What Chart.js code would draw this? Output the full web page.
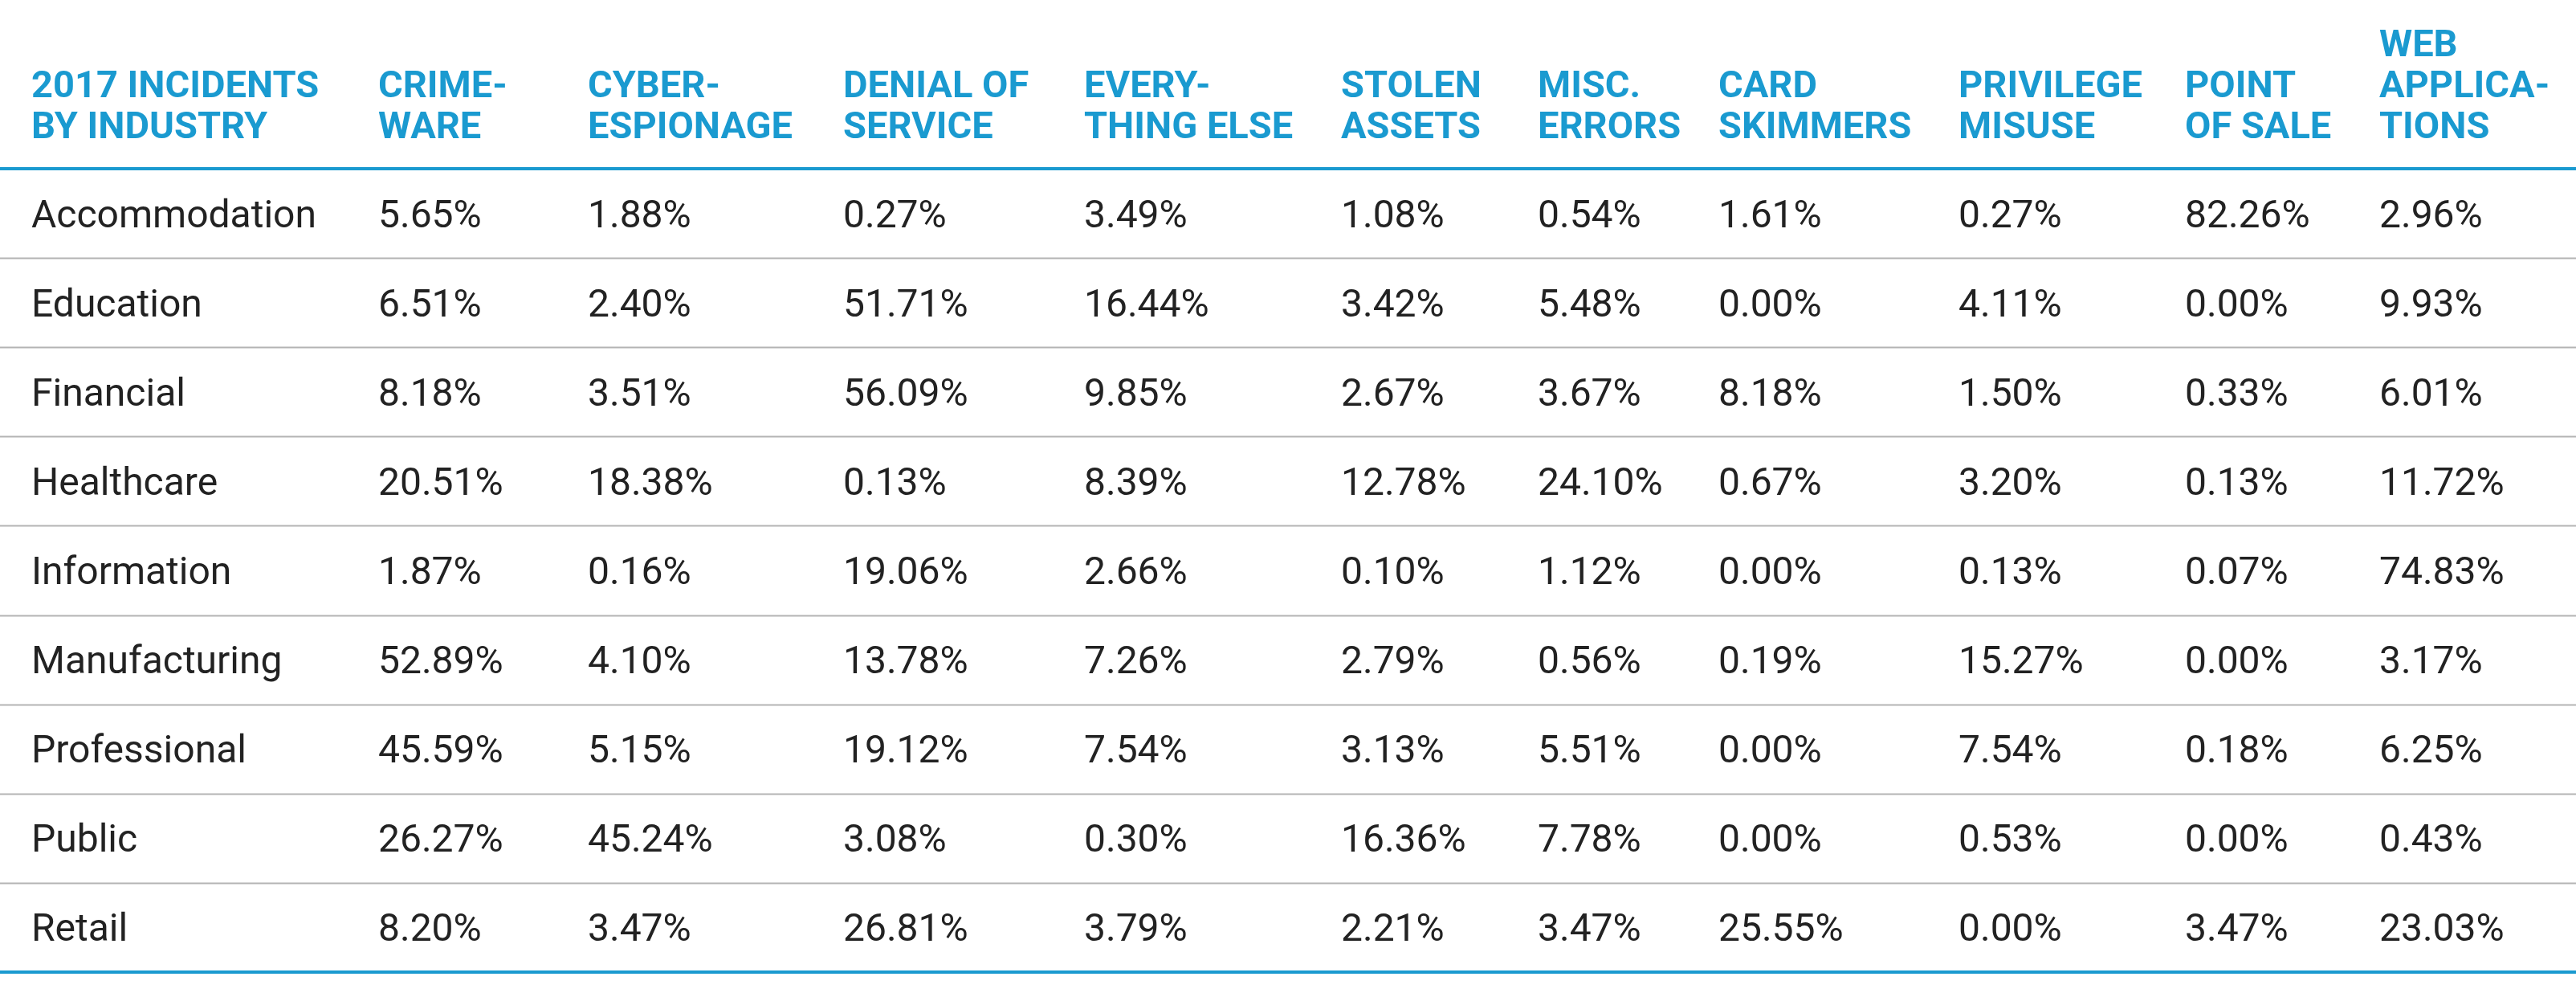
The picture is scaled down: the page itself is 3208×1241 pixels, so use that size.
<!DOCTYPE html>
<html><head><meta charset="utf-8">
<script src="https://cdn.jsdelivr.net/npm/chart.js@4/dist/chart.umd.min.js"></script>
<style>html,body{margin:0;padding:0;background:#fff}canvas{display:block}</style>
</head><body>
<canvas id="c" width="3208" height="1241"></canvas>
<script>
const industries = ["Accommodation","Education","Financial","Healthcare","Information","Manufacturing","Professional","Public","Retail"];
const headers = [["2017 INCIDENTS","BY INDUSTRY"],["CRIME-","WARE"],["CYBER-","ESPIONAGE"],["DENIAL OF","SERVICE"],["EVERY-","THING ELSE"],["STOLEN","ASSETS"],["MISC.","ERRORS"],["CARD","SKIMMERS"],["PRIVILEGE","MISUSE"],["POINT","OF SALE"],["WEB","APPLICA-","TIONS"]];
const crimeware = [5.65,6.51,8.18,20.51,1.87,52.89,45.59,26.27,8.20];
const cyberEspionage = [1.88,2.40,3.51,18.38,0.16,4.10,5.15,45.24,3.47];
const denialOfService = [0.27,51.71,56.09,0.13,19.06,13.78,19.12,3.08,26.81];
const everythingElse = [3.49,16.44,9.85,8.39,2.66,7.26,7.54,0.30,3.79];
const stolenAssets = [1.08,3.42,2.67,12.78,0.10,2.79,3.13,16.36,2.21];
const miscErrors = [0.54,5.48,3.67,24.10,1.12,0.56,5.51,7.78,3.47];
const cardSkimmers = [1.61,0.00,8.18,0.67,0.00,0.19,0.00,0.00,25.55];
const privilegeMisuse = [0.27,4.11,1.50,3.20,0.13,15.27,7.54,0.53,0.00];
const pointOfSale = [82.26,0.00,0.33,0.13,0.07,0.00,0.18,0.00,3.47];
const webApplications = [2.96,9.93,6.01,11.72,74.83,3.17,6.25,0.43,23.03];

const series = [crimeware,cyberEspionage,denialOfService,everythingElse,stolenAssets,miscErrors,cardSkimmers,privilegeMisuse,pointOfSale,webApplications];
const colX = [39,471,732,1050,1350,1670,1915,2140,2439,2721,2963];
const BLUE = "#1a9ad0";

const datasets = series.map((s,i)=>({
  label: headers[i+1].join(" "),
  data: s.map((v,r)=>({x: colX[i+1], y: industries[r], v})),
  pointRadius: 0
}));
datasets.unshift({label:"industry", data: industries.map(n=>({x:colX[0], y:n, v:n})), pointRadius:0});

const tablePlugin = {
  id:"table",
  afterDraw(chart){
    const ctx = chart.ctx, area = chart.chartArea;
    ctx.save();
    const step = (area.bottom-area.top)/industries.length;
    ctx.strokeStyle="#b4b4b4"; ctx.lineWidth=2;
    for(let r=1;r<industries.length;r++){
      const y = Math.round(area.top+step*r)+0.5;
      ctx.beginPath(); ctx.moveTo(0,y); ctx.lineTo(chart.width,y); ctx.stroke();
    }
    ctx.strokeStyle=BLUE; ctx.lineWidth=4;
    [area.top, area.bottom].forEach(y=>{ctx.beginPath();ctx.moveTo(0,y);ctx.lineTo(chart.width,y);ctx.stroke();});
    ctx.fillStyle=BLUE; ctx.font="bold 47px Roboto"; ctx.textBaseline="middle"; ctx.textAlign="left";
    headers.forEach((h,i)=>{
      const n=h.length;
      h.forEach((line,k)=>{
        const y = 160 - (n-1-k)*51;
        ctx.fillText(line, colX[i], y);
      });
    });
    ctx.fillStyle="#222"; ctx.font="48px Roboto";
    chart.data.datasets.forEach((ds,di)=>{
      const meta = chart.getDatasetMeta(di);
      meta.data.forEach((pt,r)=>{
        const v = ds.data[r].v;
        const txt = typeof v==="number" ? v.toFixed(2)+"%" : v;
        ctx.fillText(txt, pt.x, pt.y+5);
      });
    });
    ctx.restore();
  }
};

new Chart(document.getElementById("c"),{
  type:"scatter",
  data:{datasets},
  options:{
    responsive:false, animation:false, devicePixelRatio:1,
    layout:{padding:{top:210,bottom:31,left:0,right:0}},
    plugins:{legend:{display:false},tooltip:{enabled:false}},
    scales:{
      x:{type:"linear",min:0,max:3208,display:false},
      y:{type:"category",labels:industries,offset:true,display:false}
    }
  },
  plugins:[tablePlugin]
});
</script>
</body></html>
